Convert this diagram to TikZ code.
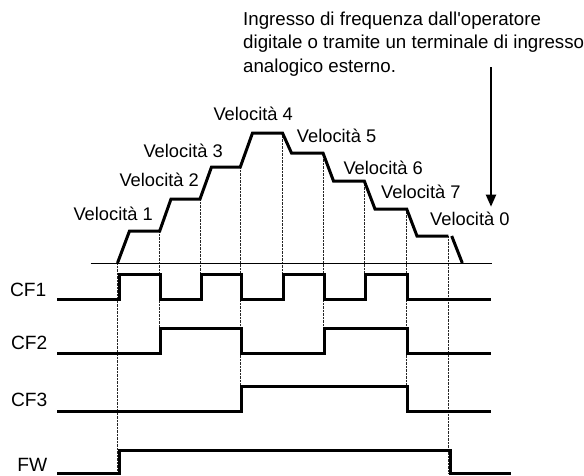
\documentclass[tikz,border=0pt]{standalone}
\usepackage{fontspec}
\setmainfont{Liberation Sans}[Ligatures=TeXOff]
\usetikzlibrary{arrows.meta}

\begin{document}
\begin{tikzpicture}[x=1pt,y=-1pt,
  sig/.style={line width=3pt, line join=miter, line cap=butt},
  guide/.style={line width=0.6pt, dash pattern=on 0.7pt off 0.7pt, black!85},
  axis/.style={line width=1pt},
  speedlbl/.style={font=\fontsize{18.3}{22}\selectfont, inner sep=0pt, anchor=base west},
  siglbl/.style={font=\fontsize{19.2}{22}\selectfont, inner sep=0pt, anchor=base east},
  notelbl/.style={font=\fontsize{18.7}{22}\selectfont, inner sep=0pt, anchor=base west},
  pointer/.style={line width=2pt, -{Triangle[length=12pt,width=10pt]}}]
\useasboundingbox (0,0) rectangle (584,475);

% note on the frequency source
\node[notelbl] (n1) at (243,25) {Ingresso di frequenza dall'operatore};
\node[notelbl] (n2) at (243,48.7) {digitale o tramite un terminale di ingresso};
\node[notelbl] (n3) at (243,72.7) {analogico esterno.};
\coordinate (arrtop) at (491,67.3);
\coordinate (arrtip) at (491,206.7);
\draw[pointer] (arrtop) -- (arrtip);

% time grid
\draw[guide] (117.5,263) -- (117.5,473.3);
\draw[guide] (159.7,231) -- (159.7,328.3);
\draw[guide] (200,199) -- (200,274);
\draw[guide] (240.3,167) -- (240.3,386.7);
\draw[guide] (282.5,133) -- (282.5,274);
\draw[guide] (323,153) -- (323,328.3);
\draw[guide] (364.3,181) -- (364.3,274);
\draw[guide] (406.7,209) -- (406.7,386.7);
\draw[guide] (448.3,236) -- (448.3,473.3);

% frequency axis
\draw[axis] (90.7,263.3) -- (491.7,263.3);

% speed profile
\draw[sig] (117.5,263) -- (129.5,231) -- (159.7,231) -- (171,199) -- (200,199)
  -- (211.5,167) -- (240.3,167) -- (252.5,133) -- (282.5,133) -- (291.5,153)
  -- (323,153) -- (333.5,181) -- (364.3,181) -- (375,209) -- (406.7,209)
  -- (417,236) -- (448.3,236);
\draw[sig] (451.7,236) -- (462.3,263);

% speed labels
\node[speedlbl] (v1) at (73.3,220.7) {Velocità 1};
\node[speedlbl] (v2) at (119.3,186) {Velocità 2};
\node[speedlbl] (v3) at (143.3,157.7) {Velocità 3};
\node[speedlbl] (v4) at (213.3,120.7) {Velocità 4};
\node[speedlbl] (v5) at (296.7,142.3) {Velocità 5};
\node[speedlbl] (v6) at (343.3,174) {Velocità 6};
\node[speedlbl] (v7) at (381,198.3) {Velocità 7};
\node[speedlbl] (v0) at (430,225.7) {Velocità 0};

% control inputs
\node[siglbl] (cf1) at (46.5,296) {CF1};
\node[siglbl] (cf2) at (47.5,349.3) {CF2};
\node[siglbl] (cf3) at (47.5,406) {CF3};
\node[siglbl] (fw) at (47.5,471.7) {FW};

\draw[sig] (57.3,299.3) -- (119,299.3) -- (119,274) -- (160.7,274) -- (160.7,299.3)
  -- (201,299.3) -- (201,274) -- (241.3,274) -- (241.3,299.3) -- (283.5,299.3)
  -- (283.5,274) -- (324,274) -- (324,299.3) -- (365.3,299.3) -- (365.3,274)
  -- (407.7,274) -- (407.7,299.3) -- (490.7,299.3);
\draw[sig] (57.3,353.3) -- (160.7,353.3) -- (160.7,328.3) -- (241.3,328.3)
  -- (241.3,353.3) -- (324,353.3) -- (324,328.3) -- (407.7,328.3)
  -- (407.7,353.3) -- (490.7,353.3);
\draw[sig] (57.3,411.7) -- (241.3,411.7) -- (241.3,386.7) -- (407.7,386.7)
  -- (407.7,411.7) -- (490.7,411.7);
\draw[sig] (57.3,473.3) -- (119,473.3) -- (119,450) -- (450.5,450)
  -- (450.5,473.3) -- (510.7,473.3);
\end{tikzpicture}
\end{document}
